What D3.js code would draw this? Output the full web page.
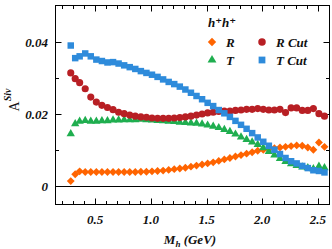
<!DOCTYPE html>
<html><head><meta charset="utf-8">
<script src="https://cdn.jsdelivr.net/npm/d3@7"></script>
<style>body{margin:0;background:#fff}svg{display:block}</style>
</head><body>
<script>
const massBins = [0.28,0.32,0.36,0.41,0.46,0.51,0.56,0.61,0.66,0.71,0.76,0.81,0.86,0.91,0.96,1.01,1.06,1.11,1.16,1.21,1.26,1.31,1.36,1.41,1.46,1.51,1.56,1.61,1.66,1.71,1.76,1.81,1.86,1.91,1.96,2.01,2.06,2.11,2.16,2.21,2.26,2.31,2.36,2.41,2.46,2.51,2.56];
const seriesR = [0.0015,0.0034,0.0042,0.0040,0.0040,0.0040,0.0040,0.0040,0.0040,0.0040,0.0040,0.0040,0.0040,0.0041,0.0041,0.0042,0.0043,0.0044,0.0046,0.0048,0.0050,0.0052,0.0055,0.0058,0.0061,0.0064,0.0067,0.0071,0.0075,0.0079,0.0083,0.0087,0.0091,0.0095,0.0099,0.0102,0.0104,0.0106,0.0108,0.0110,0.0112,0.0114,0.0113,0.0108,0.0102,0.0122,0.0110];
const seriesT = [0.0146,0.0174,0.0181,0.0183,0.0181,0.0181,0.0182,0.0182,0.0184,0.0184,0.0185,0.0185,0.0185,0.0186,0.0185,0.0184,0.0183,0.0182,0.0181,0.0180,0.0178,0.0177,0.0176,0.0175,0.0173,0.0170,0.0167,0.0163,0.0158,0.0152,0.0145,0.0137,0.0130,0.0123,0.0116,0.0107,0.0097,0.0087,0.0077,0.0069,0.0063,0.0058,0.0054,0.0052,0.0049,0.0056,0.0052];
const seriesRCut = [0.0315,0.0299,0.0288,0.0271,0.0248,0.0234,0.0225,0.0219,0.0213,0.0206,0.0202,0.0198,0.0195,0.0193,0.0192,0.0190,0.0189,0.0189,0.0189,0.0190,0.0191,0.0193,0.0195,0.0198,0.0201,0.0204,0.0206,0.0208,0.0209,0.0209,0.0211,0.0212,0.0214,0.0214,0.0216,0.0214,0.0212,0.0212,0.0214,0.0205,0.0218,0.0218,0.0211,0.0211,0.0216,0.0202,0.0195];
const seriesTCut = [0.0391,0.0356,0.0361,0.0369,0.0361,0.0352,0.0348,0.0344,0.0345,0.0341,0.0336,0.0331,0.0326,0.0320,0.0315,0.0310,0.0304,0.0297,0.0290,0.0284,0.0277,0.0269,0.0260,0.0251,0.0242,0.0232,0.0223,0.0212,0.0203,0.0193,0.0182,0.0171,0.0160,0.0148,0.0136,0.0124,0.0113,0.0102,0.0090,0.0079,0.0070,0.0064,0.0057,0.0051,0.0045,0.0043,0.0039];
const xTickLabels = ["0.5","1.0","1.5","2.0","2.5"];
const yTickLabels = ["0","0.02","0.04"];
const legendTitle = "h⁺h⁺";

const W = 332, H = 249;
const m = {l:55.5, r:2.5, t:5.5, b:44.5};
const svg = d3.select("body").append("svg").attr("width",W).attr("height",H);
const x = d3.scaleLinear().domain([0.143,2.605]).range([m.l, W-m.r]);
const y = d3.scaleLinear().domain([-0.005,0.0502]).range([H-m.b, m.t]);
const font = "'Liberation Serif','DejaVu Serif',serif";

// zero line
svg.append("line").attr("x1",m.l).attr("x2",W-m.r).attr("y1",Math.round(y(0))+0.5).attr("y2",Math.round(y(0))+0.5).attr("stroke","#000").attr("stroke-width",1);

const minorX = d3.range(2,27).map(d=>d/10);
const majorX = xTickLabels.map(Number);
const minorY = [0,0.01,0.02,0.03,0.04];
const majorY = yTickLabels.map(Number);

const tg = svg.append("g").attr("stroke","#000").attr("stroke-width",1);
minorX.forEach(v=>{
  const isMaj = majorX.some(a=>Math.abs(a-v)<1e-9);
  const L = isMaj?6:3.5;
  const px = Math.round(x(v))+0.5;
  tg.append("line").attr("x1",px).attr("x2",px).attr("y1",H-m.b).attr("y2",H-m.b-L);
  tg.append("line").attr("x1",px).attr("x2",px).attr("y1",m.t).attr("y2",m.t+L);
});
minorY.forEach(v=>{
  const isMaj = majorY.some(a=>Math.abs(a-v)<1e-9);
  const L = isMaj?6:3.5;
  const py = Math.round(y(v))+0.5;
  tg.append("line").attr("x1",m.l).attr("x2",m.l+L).attr("y1",py).attr("y2",py);
  tg.append("line").attr("x1",W-m.r).attr("x2",W-m.r-L).attr("y1",py).attr("y2",py);
});

// data
const data = massBins.map((m0,i)=>({x:m0,r:seriesR[i],t:seriesT[i],rc:seriesRCut[i],tc:seriesTCut[i]}));
const series = [
  {key:"r", color:"#ff6400", sym:d3.symbolSquare, size:31, rot:45, label:"R"},
  {key:"t", color:"#1fae4f", sym:d3.symbolTriangle, size:30, rot:0, label:"T"},
  {key:"rc", color:"#b81f24", sym:d3.symbolCircle, size:40, rot:0, label:"R Cut"},
  {key:"tc", color:"#2e8bdb", sym:d3.symbolSquare, size:42, rot:0, label:"T Cut"}
];
const plot = svg.append("g");
series.forEach(s=>{
  plot.append("g").selectAll("path").data(data).join("path")
    .attr("d", d3.symbol().type(s.sym).size(s.size))
    .attr("transform", d=>`translate(${x(d.x)},${y(d[s.key])}) rotate(${s.rot})`)
    .attr("fill", s.color);
});

// frame
svg.append("rect").attr("x",m.l).attr("y",m.t).attr("width",W-m.l-m.r).attr("height",H-m.t-m.b)
  .attr("fill","none").attr("stroke","#000").attr("stroke-width",1);

// tick labels
const lab = svg.append("g").attr("font-family",font).attr("font-weight","bold").attr("font-style","italic").attr("font-size",13).attr("fill","#111");
majorX.forEach((v,i)=>{
  lab.append("text").attr("x",x(v)).attr("y",224).attr("text-anchor","middle").text(xTickLabels[i]);
});
majorY.forEach((v,i)=>{
  lab.append("text").attr("x",48).attr("y",y(v)+4.5).attr("text-anchor","end").text(yTickLabels[i]);
});

// axis titles
const xt = lab.append("text").attr("x",190).attr("y",244).attr("text-anchor","middle");
xt.append("tspan").text("M");
xt.append("tspan").attr("font-size",9).attr("dy",3).text("h");
xt.append("tspan").attr("dy",-3).text(" (GeV)");

const yt = svg.append("text").attr("transform","translate(19,100) rotate(-90)").attr("font-family",font).attr("font-size",14).attr("fill","#111").attr("text-anchor","middle");
yt.append("tspan").text("A");
yt.append("tspan").attr("font-size",10).attr("dy",-8).attr("font-style","italic").attr("font-weight","bold").text("Siv");

// legend
const lg = svg.append("g").attr("font-family",font).attr("font-weight","bold").attr("font-style","italic").attr("font-size",13).attr("fill","#111");
lg.append("text").attr("x",208).attr("y",27).text(legendTitle);
const pos = [[212,42],[212,60],[262,42],[262,60]];
series.forEach((s,i)=>{
  const [px,py] = pos[i];
  lg.append("path").attr("d",d3.symbol().type(s.sym).size(s.size+4)).attr("transform",`translate(${px},${py}) rotate(${s.rot})`).attr("fill",s.color);
  lg.append("text").attr("x",px+14).attr("y",py+4.5).text(s.label);
});
</script>
</body></html>
